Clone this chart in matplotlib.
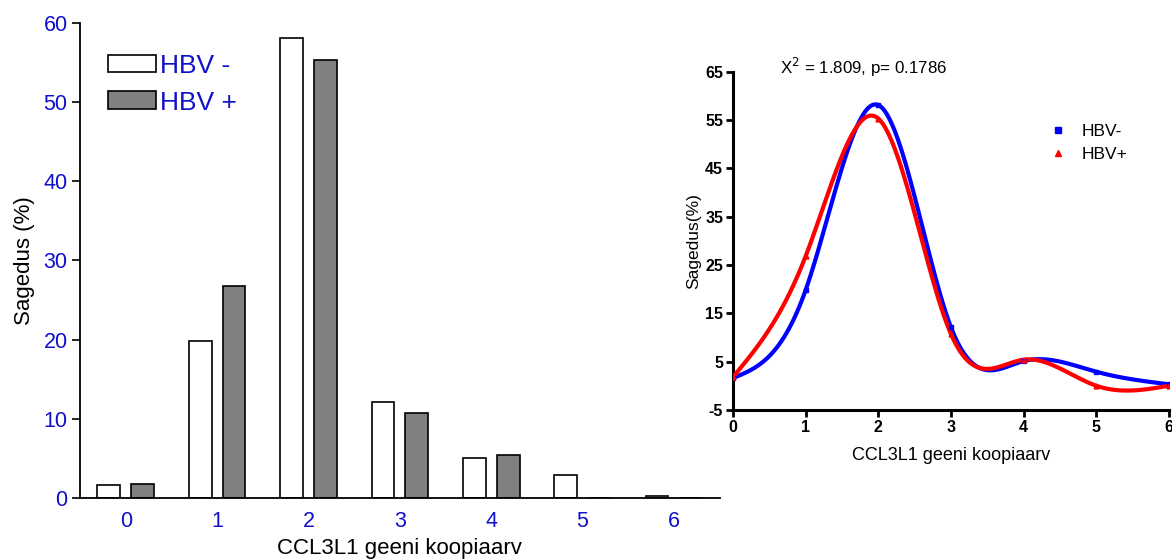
import numpy as np
import matplotlib
matplotlib.use('Agg')
import matplotlib.pyplot as plt
from matplotlib.patches import Patch

plt.rcParams['font.family'] = ['Liberation Sans', 'DejaVu Sans']
plt.rcParams['axes.unicode_minus'] = False

copies = [0, 1, 2, 3, 4, 5, 6]
hbv_neg = [1.6, 19.8, 58.1, 12.1, 5.1, 2.9, 0.3]
hbv_pos = [1.8, 26.8, 55.3, 10.7, 5.4, 0.0, 0.0]

blue_txt = '#1010c8'


def natural_spline(x, y, n=300):
    # natural cubic spline, same kind of smooth curve as the original
    x = np.asarray(x, float)
    y = np.asarray(y, float)
    k = len(x)
    h = np.diff(x)
    A = np.zeros((k, k))
    b = np.zeros(k)
    A[0, 0] = A[-1, -1] = 1
    for i in range(1, k - 1):
        A[i, i - 1] = h[i - 1]
        A[i, i] = 2 * (h[i - 1] + h[i])
        A[i, i + 1] = h[i]
        b[i] = 6 * ((y[i + 1] - y[i]) / h[i] - (y[i] - y[i - 1]) / h[i - 1])
    m = np.linalg.solve(A, b)
    xs = np.linspace(x[0], x[-1], n)
    idx = np.clip(np.searchsorted(x, xs) - 1, 0, k - 2)
    x0, x1 = x[idx], x[idx + 1]
    hh = x1 - x0
    t0, t1 = x1 - xs, xs - x0
    ys = (m[idx] * t0 ** 3 + m[idx + 1] * t1 ** 3) / (6 * hh) \
        + (y[idx] / hh - m[idx] * hh / 6) * t0 \
        + (y[idx + 1] / hh - m[idx + 1] * hh / 6) * t1
    return xs, ys


fig = plt.figure(figsize=(11.72, 5.6), dpi=100)

# left: bar chart
ax1 = fig.add_axes([0.0683, 0.1107, 0.5457, 0.8483])
x = np.arange(len(copies))
w = 0.25
ax1.bar(x - 0.185, hbv_neg, w, color='white', edgecolor='black', linewidth=1.2)
ax1.bar(x + 0.185, hbv_pos, w, color='#808080', edgecolor='black', linewidth=1.2)
ax1.set_xlim(-0.5, 6.5)
ax1.set_ylim(0, 60)
ax1.set_xticks(x)
ax1.set_xticklabels([str(c) for c in copies])
ax1.set_yticks([0, 10, 20, 30, 40, 50, 60])
ax1.tick_params(axis='x', length=0, labelsize=15.5, labelcolor=blue_txt, pad=9)
ax1.tick_params(axis='y', length=6, width=1.2, direction='out', labelsize=15.5,
                labelcolor=blue_txt, pad=3)
for s in ['top', 'right']:
    ax1.spines[s].set_visible(False)
for s in ['left', 'bottom']:
    ax1.spines[s].set_linewidth(1.3)
ax1.set_ylabel('Sagedus (%)', fontsize=16, labelpad=6)
ax1.set_xlabel('CCL3L1 geeni koopiaarv', fontsize=16, labelpad=5)
handles = [Patch(facecolor='white', edgecolor='black', linewidth=1.2, label='HBV -'),
           Patch(facecolor='#808080', edgecolor='black', linewidth=1.2, label='HBV +')]
leg = ax1.legend(handles=handles, loc='upper left', bbox_to_anchor=(0.043, 0.935), frameon=False,
                 fontsize=19, handlelength=1.85, handleheight=0.65, handletextpad=0.15,
                 labelspacing=0.48, borderaxespad=0, borderpad=0)
for t in leg.get_texts():
    t.set_color(blue_txt)

# right: smoothed curves
ax2 = fig.add_axes([0.6254, 0.268, 0.372, 0.604])
xs, ys = natural_spline(copies, hbv_neg)
ax2.plot(xs, ys, color='#0000ff', linewidth=3, zorder=3)
xs, ys = natural_spline(copies, hbv_pos)
ax2.plot(xs, ys, color='#ff0000', linewidth=3, zorder=4)
ax2.plot(copies, hbv_neg, linestyle='none', marker='s', markersize=3.5, color='#0000ff',
         label='HBV-', zorder=5)
ax2.plot(copies, hbv_pos, linestyle='none', marker='^', markersize=3.5, color='#ff0000',
         label='HBV+', zorder=5)
ax2.set_xlim(0, 6)
ax2.set_ylim(-5, 65)
ax2.set_xticks(copies)
ax2.set_yticks([-5, 5, 15, 25, 35, 45, 55, 65])
ax2.tick_params(length=5, width=2, direction='out', labelsize=11.5, pad=2)
for lab in ax2.get_xticklabels() + ax2.get_yticklabels():
    lab.set_fontweight('bold')
for s in ['top', 'right']:
    ax2.spines[s].set_visible(False)
for s in ['left', 'bottom']:
    ax2.spines[s].set_linewidth(2.2)
ax2.set_ylabel('Sagedus(%)', fontsize=12.5, labelpad=3)
ax2.set_xlabel('CCL3L1 geeni koopiaarv', fontsize=13, labelpad=9)
ax2.text(0.108, 1.012, 'X$^2$ = 1.809, p= 0.1786', transform=ax2.transAxes, fontsize=12.2,
         va='center', ha='left')
ax2.legend(loc='center left', bbox_to_anchor=(0.725, 0.79), frameon=False, fontsize=12.5,
           handlelength=1.0, handletextpad=0.9, labelspacing=0.45, markerscale=1.3,
           borderpad=0, borderaxespad=0)

fig.savefig('out.png', dpi=100)
